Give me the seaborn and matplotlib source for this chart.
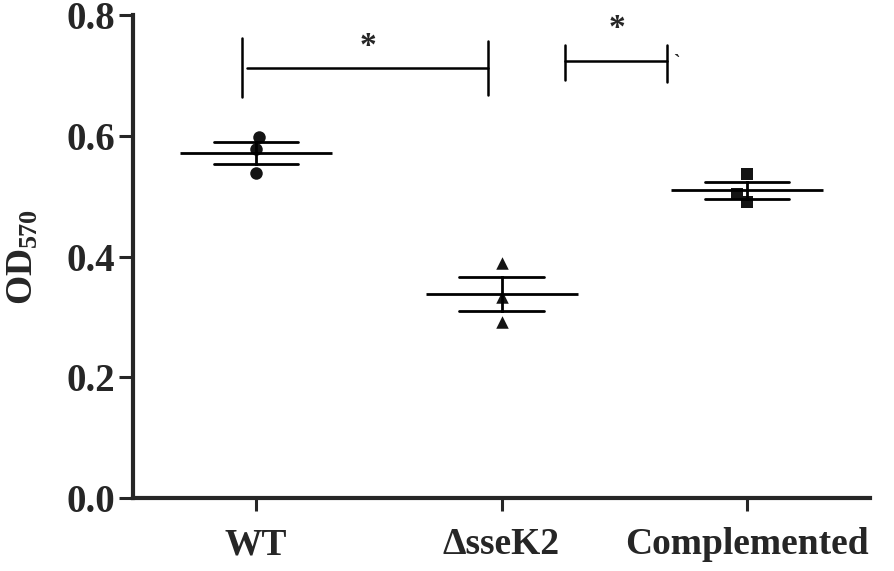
import numpy as np
import pandas as pd
import matplotlib.pyplot as plt
import seaborn as sns

# OD570 readings, three replicates per strain
groups = ['WT', 'ΔsseK2', 'Complemented']
wt_od = [0.598, 0.578, 0.538]
ssek2_od = [0.390, 0.333, 0.292]
comp_od = [0.537, 0.503, 0.490]
group_markers = ['o', '^', 's']


def main():
    df = pd.DataFrame({
        'group': np.repeat(groups, 3),
        'od': wt_od + ssek2_od + comp_od,
    })

    sns.set_style('ticks')
    plt.rcParams['font.family'] = ['Liberation Serif', 'DejaVu Serif']
    plt.rcParams['font.weight'] = 'bold'
    plt.rcParams['mathtext.fontset'] = 'custom'
    plt.rcParams['mathtext.rm'] = 'Liberation Serif:bold'
    plt.rcParams['mathtext.bf'] = 'Liberation Serif:bold'
    plt.rcParams['mathtext.default'] = 'bf'

    fig = plt.figure(figsize=(8.94, 5.71), dpi=100)
    ax = fig.add_axes([0.1488, 0.1278, 0.8244, 0.8459])

    # individual replicates
    for g, m in zip(groups, group_markers):
        sns.swarmplot(data=df[df['group'] == g], x='group', y='od', order=groups,
                      marker=m, color='#141414', size=9, ax=ax, zorder=3)

    # mean line + SEM bars
    sns.pointplot(data=df, x='group', y='od', order=groups, errorbar='se',
                  capsize=0.343, color='black', linestyle='none', marker='_',
                  markersize=110, markeredgewidth=2,
                  err_kws={'linewidth': 2}, ax=ax, zorder=4)

    ax.set_xlim(-0.5, 2.5)
    ax.set_ylim(0, 0.8)
    ax.set_yticks([0.0, 0.2, 0.4, 0.6, 0.8])
    ax.set_yticklabels(['0.0', '0.2', '0.4', '0.6', '0.8'])
    ax.set_xlabel('')
    ax.set_ylabel('OD$_{570}$', fontsize=27, fontweight='bold')
    ax.yaxis.set_label_coords(-0.126, 0.5)

    sns.despine(ax=ax)
    for s in ['left', 'bottom']:
        ax.spines[s].set_linewidth(3)
    ax.tick_params(axis='y', length=10, width=2.2, pad=3, labelsize=28)
    ax.tick_params(axis='x', length=9, width=2.2, pad=12, labelsize=27)

    # significance brackets
    lw = 1.8
    ax.plot([-0.057, -0.057], [0.664, 0.762], color='black', lw=lw, clip_on=False)
    ax.plot([-0.037, 0.943], [0.712, 0.712], color='black', lw=lw, clip_on=False)
    ax.plot([0.943, 0.943], [0.667, 0.757], color='black', lw=lw, clip_on=False)
    ax.text(0.457, 0.748, '*', fontsize=24, fontweight='bold', ha='center', va='center')

    ax.plot([1.257, 1.257], [0.692, 0.750], color='black', lw=lw, clip_on=False)
    ax.plot([1.257, 1.673], [0.724, 0.724], color='black', lw=lw, clip_on=False)
    ax.plot([1.673, 1.673], [0.689, 0.750], color='black', lw=lw, clip_on=False)
    ax.text(1.469, 0.778, '*', fontsize=24, fontweight='bold', ha='center', va='center')
    ax.text(1.71, 0.722, '`', fontsize=14, ha='center', va='center')

    fig.savefig('out.png', dpi=100)


if __name__ == '__main__':
    main()
